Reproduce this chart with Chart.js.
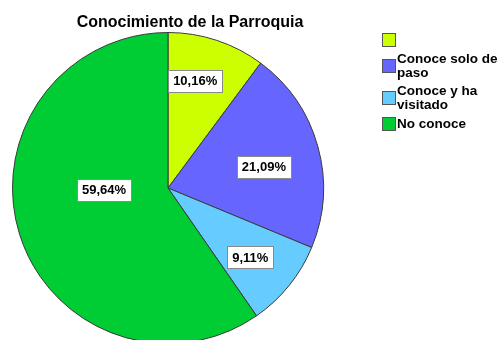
<!DOCTYPE html>
<html>
<head>
<meta charset="utf-8">
<script src="https://cdn.jsdelivr.net/npm/chart.js@4/dist/chart.umd.min.js"></script>
<style>
  html, body { margin: 0; padding: 0; background: #fff; overflow: hidden; }
  #wrap { width: 501px; height: 340px; overflow: hidden; }
</style>
</head>
<body>
<div id="wrap"><canvas id="chart" width="501" height="360"></canvas></div>
<script>
const titulo = 'Conocimiento de la Parroquia';
const categorias = ['', 'Conoce solo de paso', 'Conoce y ha visitado', 'No conoce'];
const porcentajes = [10.16, 21.09, 9.11, 59.64];
const colores = ['#ccff00', '#6666ff', '#66ccff', '#00cc33'];

// nudges for the value boxes, relative to the point at mid angle
const ajusteEtiquetas = [[-6, -7], [-6, 7], [0, 3], [37, -30]];

const fuente = 'bold 13px "Liberation Sans", Arial, sans-serif';
const fuenteLeyenda = 'bold 13.5px "Liberation Sans", Arial, sans-serif';

const tituloPlugin = {
    id: 'titulo',
    afterDraw(chart) {
        const ctx = chart.ctx;
        ctx.save();
        ctx.font = 'bold 16px "Liberation Sans", Arial, sans-serif';
        ctx.fillStyle = '#000';
        ctx.textAlign = 'center';
        ctx.textBaseline = 'alphabetic';
        ctx.fillText(titulo, 190, 27);
        ctx.restore();
    }
};

const etiquetasPlugin = {
    id: 'etiquetas',
    afterDatasetsDraw(chart) {
        const ctx = chart.ctx;
        const arcs = chart.getDatasetMeta(0).data;
        ctx.save();
        ctx.font = fuente;
        ctx.textAlign = 'center';
        ctx.textBaseline = 'middle';
        arcs.forEach((arc, i) => {
            const { x, y, startAngle, endAngle, outerRadius } = arc.getProps(['x', 'y', 'startAngle', 'endAngle', 'outerRadius'], true);
            const mid = (startAngle + endAngle) / 2;
            const r = outerRadius * 0.68;
            const cx = x + Math.cos(mid) * r + ajusteEtiquetas[i][0];
            const cy = y + Math.sin(mid) * r + ajusteEtiquetas[i][1];
            const texto = porcentajes[i].toFixed(2).replace('.', ',') + '%';
            const w = Math.round(ctx.measureText(texto).width + 10);
            const h = 22;
            const bx = Math.round(cx - w / 2) + 0.5;
            const by = Math.round(cy - h / 2) + 0.5;
            ctx.fillStyle = '#fff';
            ctx.fillRect(bx, by, w, h);
            ctx.strokeStyle = '#8a8a8a';
            ctx.lineWidth = 1;
            ctx.strokeRect(bx, by, w, h);
            ctx.fillStyle = '#000';
            ctx.fillText(texto, cx, cy + 1);
        });
        ctx.restore();
    }
};

// legend on the right, long labels wrapped over several lines
const leyendaPlugin = {
    id: 'leyenda',
    afterDraw(chart) {
        const ctx = chart.ctx;
        const x0 = 382, caja = 13, anchoMax = 104, linea = 14, hueco = 4, altoMin = 16;
        ctx.save();
        ctx.font = fuenteLeyenda;
        ctx.textAlign = 'left';
        ctx.textBaseline = 'middle';
        let centro = 33 + caja / 2;
        let prevAlto = null;
        categorias.forEach((cat, i) => {
            const lineas = [];
            let actual = '';
            cat.split(' ').forEach(p => {
                const prueba = actual ? actual + ' ' + p : p;
                if (actual && ctx.measureText(prueba).width > anchoMax) {
                    lineas.push(actual);
                    actual = p;
                } else {
                    actual = prueba;
                }
            });
            lineas.push(actual);
            const alto = lineas.length * linea;
            const altoFila = Math.max(alto, altoMin);
            if (prevAlto !== null) {
                centro += (prevAlto + altoFila) / 2 + hueco;
            }
            prevAlto = altoFila;
            const top = Math.round(centro - caja / 2) + 0.5;
            ctx.fillStyle = colores[i];
            ctx.fillRect(x0 + 0.5, top, caja, caja);
            ctx.strokeStyle = '#555';
            ctx.lineWidth = 1;
            ctx.strokeRect(x0 + 0.5, top, caja, caja);
            ctx.fillStyle = '#000';
            lineas.forEach((l, k) => {
                ctx.fillText(l, x0 + caja + 2, centro - alto / 2 + linea / 2 + k * linea + 1);
            });
        });
        ctx.restore();
    }
};

new Chart(document.getElementById('chart'), {
    type: 'pie',
    data: {
        labels: categorias,
        datasets: [{
            data: porcentajes,
            backgroundColor: colores,
            borderColor: '#3a3a3a',
            borderWidth: 1,
        }]
    },
    options: {
        responsive: false,
        animation: false,
        layout: {
            padding: { left: 12, top: 32, right: 177, bottom: 16 }
        },
        plugins: {
            legend: { display: false },
            tooltip: { enabled: false },
            title: { display: false },
        }
    },
    plugins: [tituloPlugin, etiquetasPlugin, leyendaPlugin]
});
</script>
</body>
</html>
